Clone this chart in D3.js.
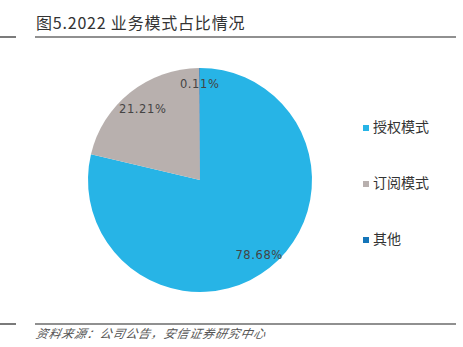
<!DOCTYPE html>
<html>
<head>
<meta charset="utf-8">
<script src="https://cdn.jsdelivr.net/npm/d3@7"></script>
<style>
  html, body { margin: 0; padding: 0; background: #fff; }
  svg { display: block; }
</style>
</head>
<body>
<svg id="chart" width="463" height="347"></svg>
<script>
// Business model share, 2022
const categories = ["授权模式", "订阅模式", "其他"];
const shares = [78.68, 21.21, 0.11];
const colors = ["#27B4E6", "#B8B0AE", "#1475B9"];
const labelText = ["78.68%", "21.21%", "0.11%"];

const svg = d3.select("#chart");
const cjk = "'Noto Sans CJK SC', 'Noto Sans', sans-serif";

// Header
svg.append("text")
  .attr("x", 36).attr("y", 29)
  .attr("font-family", cjk)
  .attr("font-size", 16)
  .attr("letter-spacing", 0.8)
  .attr("fill", "#333")
  .text("图5.2022 业务模式占比情况");
svg.append("line").attr("x1", 0).attr("x2", 16).attr("y1", 37).attr("y2", 37)
  .attr("stroke", "#222").attr("stroke-width", 1.2);
svg.append("line").attr("x1", 35).attr("x2", 456).attr("y1", 37).attr("y2", 37)
  .attr("stroke", "#222").attr("stroke-width", 1.2);

// Footer
svg.append("line").attr("x1", 0).attr("x2", 16).attr("y1", 324).attr("y2", 324)
  .attr("stroke", "#222").attr("stroke-width", 1.2);
svg.append("line").attr("x1", 35).attr("x2", 456).attr("y1", 324).attr("y2", 324)
  .attr("stroke", "#222").attr("stroke-width", 1.2);
svg.append("text")
  .attr("x", 36).attr("y", 338)
  .attr("font-family", cjk)
  .attr("font-size", 12)
  .attr("letter-spacing", 0.8)
  .attr("font-style", "italic")
  .attr("fill", "#555")
  .attr("transform", "skewX(-12) translate(71,0)")
  .text("资料来源：公司公告，安信证券研究中心");

// Pie
const cx = 200, cy = 180, r = 112;
const pie = d3.pie().sort(null).value(d => d)(shares);
const arc = d3.arc().innerRadius(0).outerRadius(r);
const g = svg.append("g").attr("transform", `translate(${cx},${cy})`);
g.selectAll("path").data(pie).join("path")
  .attr("d", arc)
  .attr("fill", (d, i) => colors[i]);

// Slice labels
const labelRadius = [0.85, 0.82, 0.86];
g.selectAll("text.lbl").data(pie).join("text")
  .attr("class", "lbl")
  .attr("x", (d, i) => d3.arc().innerRadius(r * labelRadius[i]).outerRadius(r * labelRadius[i]).centroid(d)[0])
  .attr("y", (d, i) => d3.arc().innerRadius(r * labelRadius[i]).outerRadius(r * labelRadius[i]).centroid(d)[1] + 1)
  .attr("text-anchor", "middle")
  .attr("dominant-baseline", "middle")
  .attr("font-family", "'DejaVu Sans', sans-serif")
  .attr("font-size", 11.5)
  .attr("letter-spacing", 0.6)
  .attr("fill", "#444")
  .text((d, i) => labelText[i]);

// Legend
const legend = svg.append("g");
const ly = d3.scalePoint().domain(categories).range([128, 240]);
const items = legend.selectAll("g").data(categories).join("g")
  .attr("transform", d => `translate(363,${ly(d)})`);
items.append("rect")
  .attr("x", 0).attr("y", -3).attr("width", 6).attr("height", 6)
  .attr("fill", (d, i) => colors[i]);
items.append("text")
  .attr("x", 10).attr("y", 0)
  .attr("dominant-baseline", "middle")
  .attr("font-family", cjk)
  .attr("font-size", 14)
  .attr("fill", "#333")
  .text(d => d);
</script>
</body>
</html>
